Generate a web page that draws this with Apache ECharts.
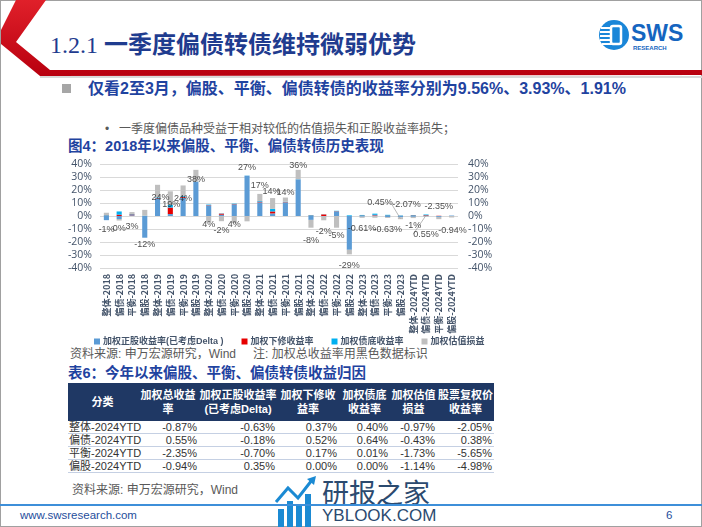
<!DOCTYPE html>
<html><head><meta charset="utf-8">
<script src="https://cdn.jsdelivr.net/npm/echarts@6/dist/echarts.min.js"></script>
<style>
html,body{margin:0;padding:0;background:#fff;}
body{width:702px;height:527px;position:relative;overflow:hidden;font-family:"Liberation Sans","Noto Sans CJK SC",sans-serif;}
.abs{position:absolute;white-space:nowrap;}
#frame{position:absolute;left:0;top:0;width:700px;height:525px;border:1px solid #a0a0a0;}
#chart{position:absolute;left:0;top:0;width:702px;height:527px;z-index:5;pointer-events:none;}
.blue{color:#1F43A0;font-weight:bold;}
table{border-collapse:collapse;table-layout:fixed;}
th{background:#1F3864;color:#fff;font-weight:bold;font-size:11px;line-height:14px;padding:0;text-align:center;height:38px;}
td{font-size:11px;line-height:12px;height:12px;padding:0 2px 0 0;text-align:right;color:#333;border-bottom:1px solid #C5D0E3;}
td.c{text-align:left;padding-left:1px;}
</style></head>
<body>
<div id="frame"></div>
<!-- title decoration -->
<svg class="abs" style="left:0;top:0" width="702" height="80">
  <defs><linearGradient id="rg" x1="0" y1="0" x2="0" y2="1"><stop offset="0" stop-color="#E0202A"/><stop offset="1" stop-color="#B8000F"/></linearGradient></defs>
  <polygon points="16,0 46,0 16,42 50,70 702,70 702,75 40,76 1,44 1,30" fill="url(#rg)"/>
  <rect x="40" y="76" width="662" height="2" fill="#d9d9d9"/>
</svg>
<div class="abs" style="left:50px;top:26px;font-size:24px;line-height:34px;color:#1F3C8F;"><span style="font-family:'Liberation Serif',serif;">1.2.1 </span><span style="font-family:'Noto Sans CJK SC';font-weight:bold;">一季度偏债转债维持微弱优势</span></div>
<!-- SWS logo -->
<svg class="abs" style="left:598px;top:18px" width="100" height="36">
  <circle cx="16" cy="17" r="15" fill="#1A86D8"/>
  <rect x="3" y="9" width="11" height="2" fill="#fff"/>
  <rect x="2" y="13" width="12" height="2" fill="#fff"/>
  <rect x="2" y="17" width="12" height="2" fill="#fff"/>
  <rect x="2" y="21" width="12" height="2" fill="#fff"/>
  <rect x="4" y="25" width="10" height="2" fill="#fff"/>
  <rect x="13" y="8" width="10" height="18" rx="2" fill="none" stroke="#fff" stroke-width="2.5"/>
  <text x="33" y="23" font-family="Liberation Sans" font-weight="bold" font-size="23" fill="#1565C0">SWS</text>
  <text x="35" y="32" font-family="Liberation Sans" font-weight="bold" font-size="6" fill="#1565C0">RESEARCH</text>
</svg>
<!-- bullets -->
<div class="abs" style="left:62px;top:84px;width:9px;height:9px;background:#A6A6A6;"></div>
<div class="abs blue" style="left:88px;top:78px;font-size:16px;line-height:22px;">仅看2至3月，偏股、平衡、偏债转债的收益率分别为9.56%、3.93%、1.91%</div>
<div class="abs" style="left:105px;top:121px;font-size:12px;line-height:16px;color:#595959;">•</div>
<div class="abs" style="left:119px;top:121px;font-size:12px;line-height:16px;color:#595959;">一季度偏债品种受益于相对较低的估值损失和正股收益率损失；</div>
<div class="abs blue" style="left:68px;top:136px;font-size:14.5px;line-height:20px;">图4：2018年以来偏股、平衡、偏债转债历史表现</div>
<div class="abs" style="left:70px;top:345px;font-size:12px;line-height:18px;color:#595959;">资料来源: 申万宏源研究，Wind</div>
<div class="abs" style="left:253px;top:345px;font-size:12px;line-height:18px;color:#595959;">注: 加权总收益率用黑色数据标识</div>
<div class="abs blue" style="left:68px;top:363px;font-size:14.5px;line-height:20px;">表6：今年以来偏股、平衡、偏债转债收益归因</div>
<div class="abs" style="left:68px;top:383px;" id="tbl"></div>
<div class="abs" style="left:72px;top:481px;font-size:12px;line-height:18px;color:#595959;">资料来源: 申万宏源研究，Wind</div>
<!-- watermark -->
<svg class="abs" style="left:274px;top:476px" width="46" height="51">
  <rect x="4" y="33" width="6" height="18" fill="#1B8AD3"/>
  <rect x="13" y="25" width="6" height="26" fill="#1B8AD3"/>
  <rect x="22" y="30" width="6" height="21" fill="#1B8AD3"/>
  <rect x="31" y="18" width="6" height="33" fill="#1B8AD3"/>
  <polyline points="2,26 14,12 24,22 38,4" fill="none" stroke="#1B8AD3" stroke-width="3"/>
  <polygon points="33,3 42,0 40,9" fill="#1B8AD3"/>
</svg>
<div class="abs" style="left:322px;top:476px;font-size:27px;line-height:32px;color:#2B4A6F;font-family:'Noto Sans CJK SC';">研报之家</div>
<div class="abs" style="left:322px;top:506px;font-size:17px;line-height:20px;color:#2B4A6F;">YBLOOK.COM</div>
<!-- footer -->
<div class="abs" style="left:0;top:504px;width:702px;height:2px;background:#3D8FD9;"></div>
<div class="abs" style="left:20px;top:507px;font-size:11.5px;line-height:16px;color:#1F4E9C;">www.swsresearch.com</div>
<div class="abs" style="left:666px;top:507px;font-size:11.5px;line-height:16px;color:#1F4E9C;">6</div>
<div id="chart"></div>
<script>
// ---------- data ----------
const categories = ['整体-2018','偏债-2018','平衡-2018','偏股-2018','整体-2019','偏债-2019','平衡-2019','偏股-2019','整体-2020','偏债-2020','平衡-2020','偏股-2020','整体-2021','偏债-2021','平衡-2021','偏股-2021','整体-2022','偏债-2022','平衡-2022','偏股-2022','整体-2023','偏债-2023','平衡-2023','偏股-2023','整体-2024YTD','偏债-2024YTD','平衡-2024YTD','偏股-2024YTD'];
const seriesNames = ['加权正股收益率(已考虑Delta )','加权下修收益率','加权债底收益率','加权估值损益'];
const stockReturn = [-3.2,-2.3,0.6,-16.7,13.5,1.5,14.0,26.4,8.0,1.0,9.0,31.0,10.5,2.0,10.3,28.2,-3.0,-0.3,3.5,-26.0,-0.5,0.5,-0.8,-1.0,-0.63,-0.18,-0.70,0.35];
const downwardRevision = [0.3,1.0,0.6,0,0.3,5.0,0.8,0,0.3,0.8,0.2,0,0.5,1.5,0.3,0,0.3,1.2,0.2,0,0.3,0.4,0.3,0.1,0.37,0.52,0.17,0.00];
const bondFloor = [0.4,2.5,0.4,0.2,0.5,2.0,0.7,0.1,0.5,0.2,0.3,0.1,0.5,2.0,0.4,0.1,0.4,0.1,0.3,0.5,0.5,0.9,0.6,0.3,0.40,0.64,0.01,0.00];
const valuation = [1.8,-1.2,1.4,4.5,9.7,10.5,8.0,9.0,-4.8,-4.0,-5.5,-4.1,5.5,8.3,3.2,7.2,-6.0,-3.0,-9.0,-3.5,-0.9,-1.35,-0.73,-1.47,-0.97,-0.43,-1.73,-1.14];
const totalReturn = [-1,0,3,-12,24,19,24,38,4,-2,4,27,17,14,14,36,-8,-2,-5,-29,-0.61,0.45,-0.63,-2.07,-1,0.55,-2.35,-0.94];
const yMin = -40, yMax = 40, yStep = 10;

// table data
const tableHeader = ['分类','加权总收益<br>率','加权正股收益率<br>(已考虑Delta)','加权下修收<br>益率','加权债底<br>收益率','加权估值<br>损益','股票复权价<br>收益率'];
const tableRowNames = ['整体-2024YTD','偏债-2024YTD','平衡-2024YTD','偏股-2024YTD'];
const tableTotal = ['-0.87%','0.55%','-2.35%','-0.94%'];
const tableStock = ['-0.63%','-0.18%','-0.70%','0.35%'];
const tableRevision = ['0.37%','0.52%','0.17%','0.00%'];
const tableFloor = ['0.40%','0.64%','0.01%','0.00%'];
const tableValuation = ['-0.97%','-0.43%','-1.73%','-1.14%'];
const tablePrice = ['-2.05%','0.38%','-5.65%','-4.98%'];

// ---------- styling ----------
const colWidths = [69,62,78,62,51,47,57];
let html = '<table style="width:426px"><colgroup>' + colWidths.map(w=>'<col style="width:'+w+'px">').join('') + '</colgroup><tr>' + tableHeader.map(h=>'<th>'+h+'</th>').join('') + '</tr>';
tableRowNames.forEach((n,i)=>{
  html += '<tr><td class="c">'+n+'</td><td>'+tableTotal[i]+'</td><td>'+tableStock[i]+'</td><td>'+tableRevision[i]+'</td><td>'+tableFloor[i]+'</td><td>'+tableValuation[i]+'</td><td>'+tablePrice[i]+'</td></tr>';
});
html += '</table>';
document.getElementById('tbl').innerHTML = html;

const colors = ['#5B9BD5','#E60000','#00B0F0','#BFBFBF'];
// label nudges (px) for total labels, [dx, dy]
const labelNudge = [[0,12.7],[0,13],[0,14.6],[0,12.7],[3,12.9],[1,13],[0,13.5],[0,13.4],[0,14.2],[0,12.4],[0,14.2],[0,-13.5],[0,-8.2],[-1,-6.1],[0,-5.1],[0,-3.5],[0,13.7],[0,13],[0,13],[0,11.7],[0,12.2],[5,-12.8],[0,12.2],[6,-13.7],[0,7.8],[0,18.9],[0,-13],[1,12.8]];
const leaderIdx = [23,25];
const fmtPct = v => (Number.isInteger(v) ? v : v.toFixed(2)) + '%';

const chart = echarts.init(document.getElementById('chart'), null, {renderer:'canvas'});
const parts = [stockReturn, downwardRevision, bondFloor, valuation];
const barSeries = parts.map((arr,k)=>({
  name: seriesNames[k], type:'bar', stack:'ret', data: arr, barWidth:'40%',
  itemStyle:{color:colors[k]}, yAxisIndex:0
}));
const axisLabelStyle = {formatter:'{value}%', color:'#44546A', fontSize:10.5, fontFamily:'"Open Sans","Liberation Sans",sans-serif'};
chart.setOption({
  animation:false,
  textStyle:{fontFamily:'"Liberation Sans","Noto Sans CJK SC",sans-serif'},
  grid:{left:100,right:244,top:164,bottom:259},
  legend:{
    data: seriesNames, left:89, top:332, itemWidth:6, itemHeight:6, itemGap:18, icon:'rect',
    textStyle:{fontSize:9, fontWeight:'bold', color:'#44546A', padding:[0,0,0,-2]}
  },
  xAxis:{type:'category', data:categories, axisLine:{show:false}, axisTick:{show:false},
    axisLabel:{rotate:90, interval:0, fontSize:9, fontWeight:'bold', color:'#44546A', margin:6, fontFamily:'"Noto Sans CJK SC",sans-serif'}},
  yAxis:[
    {type:'value', min:yMin, max:yMax, interval:yStep, axisLabel:Object.assign({margin:8},axisLabelStyle),
      splitLine:{lineStyle:{color:'#D9D9D9'}}, axisLine:{show:false}, axisTick:{show:false}},
    {type:'value', min:yMin, max:yMax, interval:yStep, position:'right', axisLabel:Object.assign({margin:10},axisLabelStyle),
      splitLine:{show:false}, axisLine:{show:false}, axisTick:{show:false}}
  ],
  series: barSeries.concat([{
    name:'加权总收益率', type:'scatter', yAxisIndex:1, symbolSize:0, z:10,
    data: totalReturn.map((v,i)=> leaderIdx.includes(i) ? {value:v, labelLine:{show:true}} : v),
    itemStyle:{color:'transparent'},
    label:{show:true, position:'inside', formatter:p=>fmtPct(p.value), fontSize:9, color:'#222'},
    labelLine:{show:false, lineStyle:{color:'#A6A6A6', width:0.8}},
    labelLayout: p => ({dx: labelNudge[p.dataIndex][0], dy: labelNudge[p.dataIndex][1]})
  }])
});
</script>
</body></html>
